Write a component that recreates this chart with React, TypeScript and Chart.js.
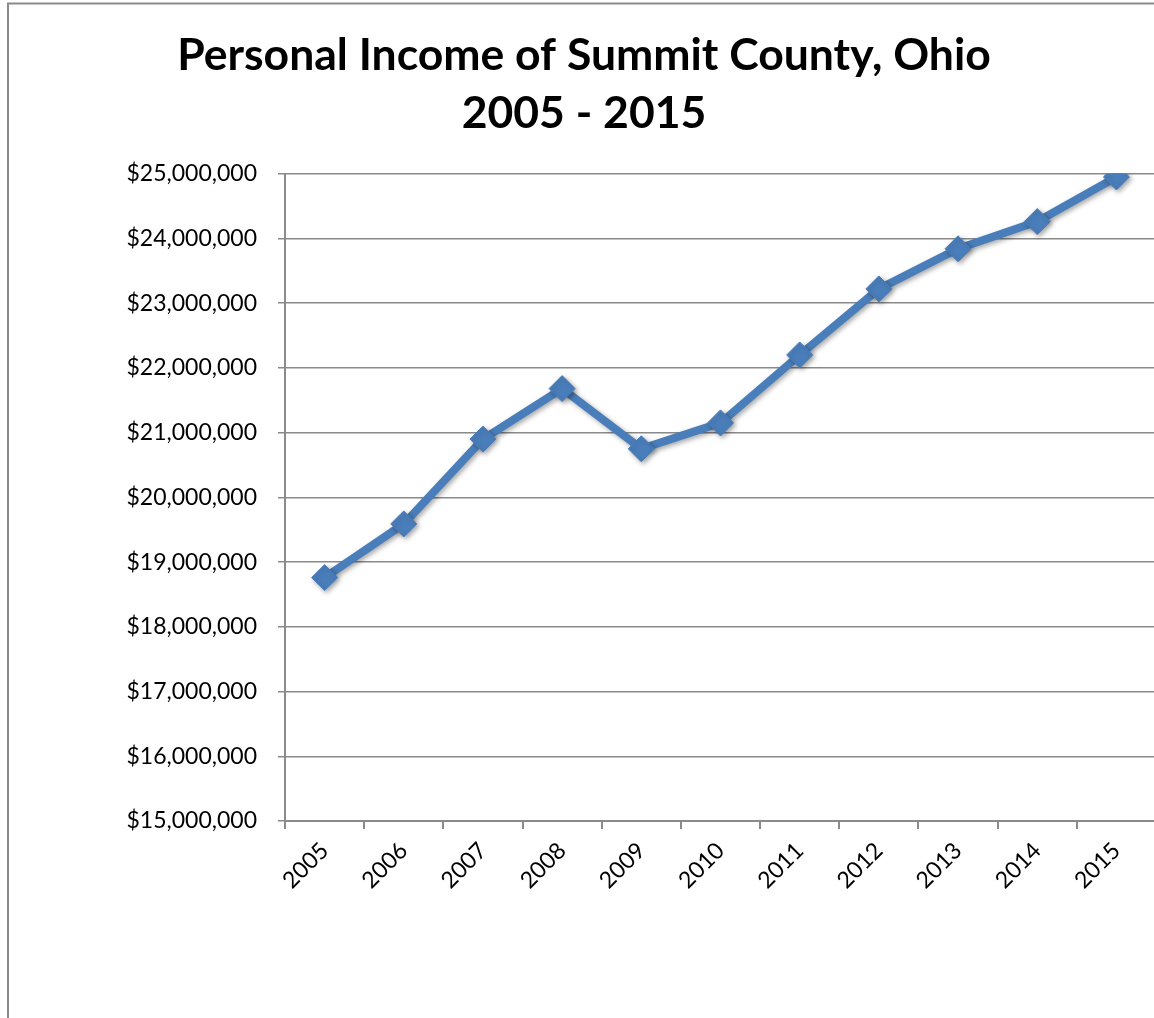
import React, { useEffect, useRef } from 'react';
import { Chart, registerables } from 'chart.js';

Chart.register(...registerables);

const titleLines = ['Personal Income of Summit County, Ohio', '2005 - 2015'];
const years = ['2005', '2006', '2007', '2008', '2009', '2010', '2011', '2012', '2013', '2014', '2015'];
const income = [18760000, 19590000, 20900000, 21680000, 20750000, 21150000, 22200000, 23220000, 23840000, 24260000, 24950000];
const yMin = 15000000;
const yMax = 25000000;
const yStep = 1000000;

const FONT = 'Lato, "Open Sans", "Liberation Sans", sans-serif';
const LINE_COLOR = '#4A7EBB';
const GRID_COLOR = '#8A8A8A';

export default function App() {
  const ref = useRef<HTMLCanvasElement>(null);

  useEffect(() => {
    const canvas = ref.current;
    if (!canvas) return;

    const frame = {
      id: 'frame',
      beforeDraw(chart: any) {
        const ctx = chart.ctx;
        ctx.save();
        ctx.fillStyle = '#ffffff';
        ctx.fillRect(0, 0, chart.width, chart.height);
        ctx.strokeStyle = '#8A8A8A';
        ctx.lineWidth = 2;
        ctx.beginPath();
        ctx.moveTo(8, chart.height);
        ctx.lineTo(8, 3.5);
        ctx.lineTo(chart.width, 3.5);
        ctx.stroke();
        ctx.restore();
      },
    };

    const shadow = {
      id: 'shadow',
      beforeDatasetDraw(chart: any) {
        const ctx = chart.ctx;
        ctx.save();
        ctx.shadowColor = 'rgba(0,0,0,0.35)';
        ctx.shadowBlur = 5;
        ctx.shadowOffsetX = 2;
        ctx.shadowOffsetY = 2;
      },
      afterDatasetDraw(chart: any) {
        chart.ctx.restore();
      },
    };

    const chart = new Chart(canvas, {
      type: 'line',
      data: {
        labels: years,
        datasets: [
          {
            data: income,
            borderColor: LINE_COLOR,
            backgroundColor: LINE_COLOR,
            borderWidth: 8,
            pointStyle: 'rectRot',
            pointRadius: 13,
            pointBorderWidth: 1,
            pointBackgroundColor: LINE_COLOR,
            pointBorderColor: LINE_COLOR,
            tension: 0,
            fill: false,
          },
        ],
      },
      options: {
        responsive: false,
        animation: false,
        devicePixelRatio: 1,
        layout: { padding: { left: 11, right: 13, top: 0, bottom: 97 } },
        plugins: {
          legend: { display: false },
          tooltip: { enabled: false },
          title: {
            display: true,
            text: titleLines,
            color: '#000000',
            font: { family: FONT, size: 44.5, weight: 'bold', lineHeight: 1.3 },
            padding: { top: 27, bottom: 31 },
          },
        },
        scales: {
          x: {
            type: 'category',
            offset: true,
            grid: {
              offset: true,
              drawOnChartArea: false,
              drawTicks: true,
              tickLength: 8,
              color: GRID_COLOR,
              lineWidth: 2,
            },
            border: { display: true, color: GRID_COLOR, width: 2 },
            ticks: {
              color: '#000000',
              font: { family: FONT, size: 23 },
              maxRotation: 45,
              minRotation: 45,
              padding: 8,
              autoSkip: false,
            },
            afterFit(scale: any) {
              scale.height = 100;
            },
          },
          y: {
            min: yMin,
            max: yMax,
            grid: {
              color: GRID_COLOR,
              lineWidth: 1.5,
              tickLength: 7,
              drawTicks: true,
            },
            border: { display: true, color: GRID_COLOR, width: 2 },
            ticks: {
              stepSize: yStep,
              color: '#000000',
              font: { family: FONT, size: 23 },
              padding: 21,
              callback: (v: any) => '$' + Number(v).toLocaleString('en-US'),
            },
            afterFit(scale: any) {
              scale.width = 274;
            },
          },
        },
      },
      plugins: [frame, shadow],
    });

    return () => chart.destroy();
  }, []);

  return (
    <div style={{ position: 'fixed', left: 0, top: 0, width: 1154, height: 1018, overflow: 'hidden', background: '#ffffff' }}>
      <canvas ref={ref} width={1170} height={1018} style={{ display: 'block', width: 1170, height: 1018 }} />
    </div>
  );
}
